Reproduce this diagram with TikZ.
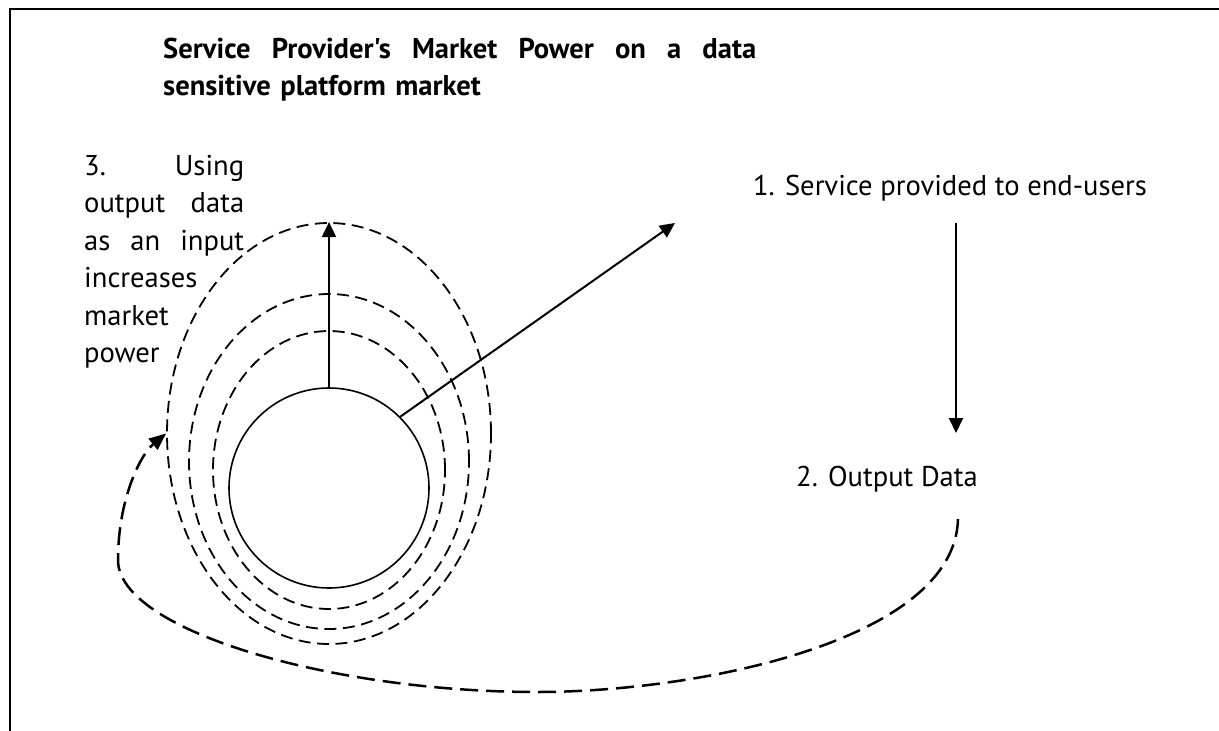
\documentclass[tikz,border=0pt]{standalone}
\usepackage{fontspec}
\setmainfont{PT Sans}[Ligatures=TeXOff]
\usetikzlibrary{arrows.meta,shapes.geometric}
\begin{document}
\begin{tikzpicture}[x=1pt,y=-1pt,
  lbl/.style={inner sep=0pt, font=\fontsize{28.6}{37.5}\selectfont},
  ring/.style={draw, ellipse, line width=1.8pt, dash pattern=on 12pt off 6.5pt, inner sep=0pt},
  arr/.style={line width=2pt, -{Triangle[length=15pt,width=14pt]}},
  loopline/.style={line width=2.5pt, dash pattern=on 18pt off 8pt, -{Triangle[length=17pt,width=14pt]}}
]
\useasboundingbox (0,0) rectangle (1219,731);
% frame
\draw[line width=2pt] (9.5,731) -- (9.5,9) -- (1219,9);
% title
\node[lbl, font=\bfseries\fontsize{28.6}{37}\selectfont, text width=593pt, align=left, anchor=base west] (title) at (163,58)
  {Service\hfill Provider's\hfill Market\hfill Power\hfill on\hfill a\hfill data\\sensitive platform market};
% left explanation
\node[lbl, text width=160pt, align=left, anchor=base west] (step3) at (84,175)
  {3.\hfill Using\\output\hfill data\\as\hfill an\hfill input\\increases\\market\\power};
% right labels
\node[lbl, anchor=base] (s1) at (950,195) {1. Service provided to end-users};
\node[lbl, anchor=base] (s2) at (887,486) {2. Output Data};
% rings
\node[ring, minimum width=324pt, minimum height=421pt] (outer) at (329,433.5) {};
\node[ring, minimum width=280pt, minimum height=335pt] (middle) at (329,461.5) {};
\node[ring, minimum width=232pt, minimum height=278pt] (inner) at (329,470) {};
\node[draw, circle, line width=1.6pt, minimum size=200pt, inner sep=0pt] (core) at (329,488) {};
% connectors
\coordinate (d1) at (675,223);
\coordinate (a1) at (956,223);
\coordinate (a2) at (956,433);
\coordinate (l1) at (958,519);
\coordinate (lb) at (537,692);
\coordinate (ll) at (118,560);
\draw[arr] (core.north) -- (outer.north);
\draw[arr] (core.45) -- (d1);
\draw[arr] (a1) -- (a2);
\draw[loopline] (l1) .. controls (955,640) and (700,692) .. (lb)
  .. controls (330,692) and (118,630) .. (ll)
  .. controls (118,500) and (140,455) .. (outer.west);
\end{tikzpicture}
\end{document}
